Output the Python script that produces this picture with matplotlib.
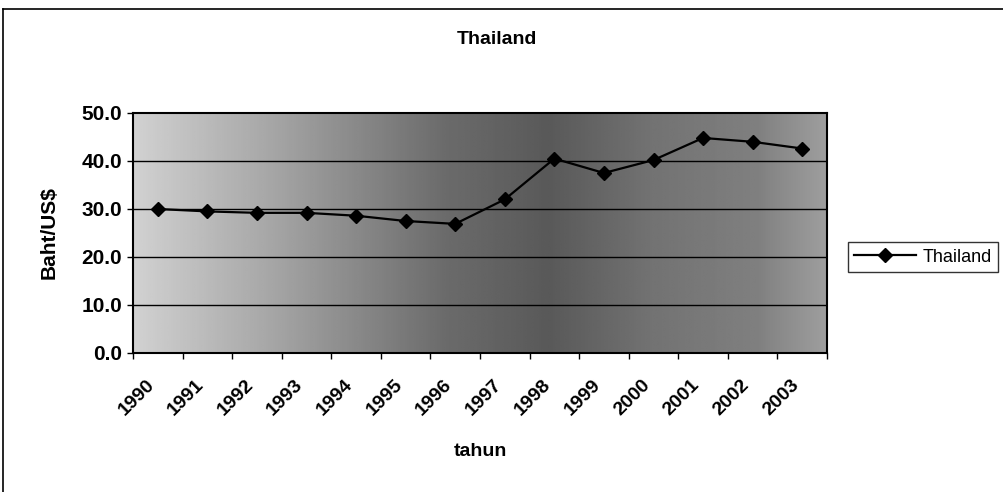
import numpy as np
import matplotlib
matplotlib.use("Agg")
import matplotlib.pyplot as plt
from matplotlib.lines import Line2D
from matplotlib.transforms import ScaledTranslation

years = ["1990", "1991", "1992", "1993", "1994", "1995", "1996",
         "1997", "1998", "1999", "2000", "2001", "2002", "2003"]
baht_per_usd = [30.0, 29.5, 29.2, 29.2, 28.6, 27.5, 26.9,
                32.0, 40.5, 37.5, 40.2, 44.8, 44.0, 42.6]
series_name = "Thailand"
y_ticks = [0, 10, 20, 30, 40, 50]

plt.rcParams['font.family'] = ['Liberation Sans', 'DejaVu Sans']

W, H = 1004, 492
fig = plt.figure(figsize=(W / 100, H / 100), dpi=100)
fig.patch.set_facecolor('white')

L, R, T, B = 133, 827, 113, 353
ax = fig.add_axes([L / W, 1 - B / H, (R - L) / W, (B - T) / H])

n = len(years)
xpos = np.arange(n) + 0.5

# scanned-texture shading of the plot area (styling only)
ctrl_x = [0.0, 0.2, 0.45, 0.6, 0.75, 0.9, 1.0]
ctrl_v = [0.82, 0.65, 0.42, 0.35, 0.45, 0.5, 0.62]
gx = np.linspace(0, 1, 300)
grad = np.interp(gx, ctrl_x, ctrl_v)
ax.imshow(grad[np.newaxis, :], extent=[0, n, 0, 50], aspect='auto',
          cmap='gray', vmin=0, vmax=1, zorder=0, interpolation='bilinear')

ax.set_xlim(0, n)
ax.set_ylim(0, 50)
ax.set_yticks(y_ticks)
ax.set_yticklabels([f"{v:.1f}" for v in y_ticks], fontsize=15, fontweight='bold')
for v in y_ticks[1:-1]:
    ax.axhline(v, color='black', lw=1.0, zorder=1)

ax.plot(xpos, baht_per_usd, color='black', lw=1.6, marker='D', markersize=7,
        zorder=3, label=series_name)

ax.set_xticks(xpos)
ax.set_xticklabels(years, rotation=45, ha='right', rotation_mode='anchor',
                   fontsize=14, fontweight='bold')
ax.tick_params(axis='x', which='major', length=0, pad=17)
shift = ScaledTranslation(-12 / 100, 0, fig.dpi_scale_trans)
for lbl in ax.get_xticklabels():
    lbl.set_transform(lbl.get_transform() + shift)
ax.set_xticks(np.arange(n + 1), minor=True)
ax.tick_params(axis='x', which='minor', length=4, width=1, direction='out')
ax.tick_params(axis='y', length=4, width=1, direction='out', pad=4)

for s in ax.spines.values():
    s.set_color('black')
    s.set_linewidth(1.5)

ax.set_ylabel("Baht/US$", fontsize=15, fontweight='bold', labelpad=16)
fig.text((L + R) / 2 / W, 1 - 452 / H, "tahun", ha='center', va='center',
         fontsize=14, fontweight='bold')
fig.text(0.495, 1 - 40 / H, "Thailand", ha='center', va='center',
         fontsize=14, fontweight='bold')

leg = fig.legend(loc='center left', bbox_to_anchor=(848 / W, 1 - 257 / H),
                 fontsize=13, frameon=True, fancybox=False, handlelength=3.4,
                 borderpad=0.35, handletextpad=0.4, borderaxespad=0)
leg.get_frame().set_edgecolor('black')
leg.get_frame().set_linewidth(1.0)

# outer chart border
fig.add_artist(Line2D([3 / W, 3 / W], [0.0, 1 - 9 / H], color='black', lw=1.2))
fig.add_artist(Line2D([3 / W, 1.0], [1 - 9 / H, 1 - 9 / H], color='black', lw=1.2))

fig.savefig("out.png", dpi=100)
